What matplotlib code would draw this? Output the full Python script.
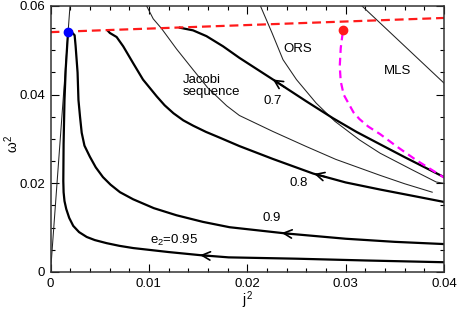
import numpy as np
import matplotlib
matplotlib.use('Agg')
import matplotlib.pyplot as plt
from matplotlib.ticker import MultipleLocator, FuncFormatter

plt.rcParams['font.family'] = ['Liberation Sans', 'DejaVu Sans']
plt.rcParams['mathtext.fontset'] = 'custom'
plt.rcParams['mathtext.rm'] = 'Liberation Sans'
plt.rcParams['mathtext.it'] = 'Liberation Sans'

# e2 = const tracks (thick)
e95_x = [0.00178, 0.00155, 0.00142, 0.00133, 0.00130, 0.00133, 0.00142, 0.00160,
         0.00190, 0.00231, 0.00290, 0.00368, 0.00450, 0.00571, 0.0070, 0.0084,
         0.0100, 0.0120, 0.0152, 0.0181, 0.025, 0.032, 0.040]
e95_y = [0.0541, 0.0460, 0.0388, 0.0290, 0.0205, 0.0180, 0.0160, 0.0142,
         0.0122, 0.0104, 0.0090, 0.0079, 0.0072, 0.0065, 0.0059, 0.0054,
         0.0050, 0.0045, 0.0038, 0.0033, 0.0030, 0.0026, 0.0022]

e90_x = [0.00228, 0.00245, 0.00255, 0.00275, 0.00284, 0.00300, 0.00317, 0.00345,
         0.0040, 0.00460, 0.00533, 0.00610, 0.00706, 0.0084, 0.0105, 0.0128,
         0.0155, 0.0182, 0.0239, 0.0300, 0.0350, 0.0400]
e90_y = [0.0538, 0.0534, 0.0510, 0.0450, 0.0388, 0.0350, 0.0314, 0.0285,
         0.0260, 0.0236, 0.0214, 0.0197, 0.0180, 0.0164, 0.0144, 0.0128,
         0.0113, 0.0101, 0.0087, 0.0075, 0.0068, 0.0063]

e80_x = [0.00587, 0.00604, 0.00672, 0.00739, 0.0084, 0.0094, 0.0108, 0.0116,
         0.0125, 0.0135, 0.0145, 0.0158, 0.0172, 0.0192, 0.0226, 0.0267,
         0.0300, 0.0335, 0.0370, 0.0400]
e80_y = [0.0543, 0.0539, 0.0530, 0.0509, 0.0471, 0.0434, 0.0396, 0.0376,
         0.0358, 0.0342, 0.0330, 0.0316, 0.0303, 0.0284, 0.0255, 0.0222,
         0.0202, 0.0186, 0.0171, 0.0158]

e70_x = [0.01315, 0.01449, 0.01585, 0.01754, 0.0192, 0.02262, 0.0260, 0.0287,
         0.0311, 0.0335, 0.0360, 0.0400]
e70_y = [0.0551, 0.0545, 0.0532, 0.0509, 0.0483, 0.0434, 0.0385, 0.0347,
         0.0316, 0.0288, 0.0259, 0.0214]

# thin reference curves
orig_x = [0.0, 0.00198]
orig_y = [0.0, 0.060]

jac_x = [0.00977, 0.01044, 0.01129, 0.01281, 0.0145, 0.0160, 0.0179, 0.0192,
         0.0226, 0.0260, 0.0290, 0.0335, 0.0360, 0.0388]
jac_y = [0.0600, 0.0571, 0.0549, 0.0503, 0.0456, 0.0415, 0.0375, 0.0353,
         0.0317, 0.0283, 0.0254, 0.0218, 0.0199, 0.0180]

ors_x = [0.02134, 0.02252, 0.02363, 0.0250, 0.0270, 0.0289, 0.0314, 0.0335,
         0.0368, 0.0392, 0.0400]
ors_y = [0.0600, 0.0539, 0.0479, 0.0434, 0.0381, 0.0340, 0.0298, 0.0268,
         0.0230, 0.0203, 0.0200]

mls_x = [0.03166, 0.0400]
mls_y = [0.0600, 0.0426]

# dashed curves
red_x = [0.0, 0.040]
red_y = [0.0541, 0.0573]

mag_x = [0.0297, 0.0295, 0.0294, 0.0295, 0.0298, 0.0303, 0.0308, 0.0314,
         0.0323, 0.0335, 0.0352, 0.0372, 0.0400]
mag_y = [0.0540, 0.0505, 0.0464, 0.0430, 0.0400, 0.0380, 0.0360, 0.0345,
         0.0328, 0.0311, 0.0283, 0.0252, 0.0213]

blue_pt = (0.00178, 0.0541)
red_pt = (0.0297, 0.0545)

# arrow tip positions on each track
arrow_tips = {'0.95': 0.0152, '0.90': 0.0235, '0.80': 0.0268, '0.70': 0.0226}

fig = plt.figure(figsize=(4.58, 3.10), dpi=100)
ax = fig.add_axes([0.1103, 0.1226, 0.8592, 0.8581])

tracks = {'0.95': (e95_x, e95_y), '0.90': (e90_x, e90_y),
          '0.80': (e80_x, e80_y), '0.70': (e70_x, e70_y)}

for x, y in [(orig_x, orig_y), (jac_x, jac_y), (ors_x, ors_y), (mls_x, mls_y)]:
    ax.plot(x, y, color='#222222', lw=0.75)

for k, (x, y) in tracks.items():
    ax.plot(x, y, color='black', lw=1.6, solid_joinstyle='round')
    xt = arrow_tips[k]
    xs = xt + 0.0012
    xa = np.array(x)
    ya = np.array(y)
    # only the monotonic tail part for looking up the arrow position
    m = xa > 0.008
    yt = np.interp(xt, xa[m], ya[m])
    ys = np.interp(xs, xa[m], ya[m])
    ax.annotate('', xy=(xt, yt), xytext=(xs, ys),
                arrowprops=dict(arrowstyle='->,head_length=0.6,head_width=0.3',
                                color='black', lw=1.2, shrinkA=0, shrinkB=0))

ax.plot(red_x, red_y, color='#ff1a1a', lw=1.6, dashes=(4, 2.2))
ax.plot(mag_x, mag_y, color='#ff00ff', lw=1.6, dashes=(3.5, 2.2))

ax.plot(*blue_pt, 'o', color='#0000ff', ms=6, zorder=5)
ax.plot(*red_pt, 'o', color='#ff1a1a', ms=6, zorder=5)

fs = 9.5
ax.text(0.01348, 0.0420, 'Jacobi\nsequence', fontsize=fs, ha='left', va='center',
        linespacing=1.0)
ax.text(0.0251, 0.0504, 'ORS', fontsize=fs, ha='center', va='center')
ax.text(0.0353, 0.0454, 'MLS', fontsize=fs, ha='center', va='center')
ax.text(0.0226, 0.0386, '0.7', fontsize=fs, ha='center', va='center')
ax.text(0.0252, 0.0200, '0.8', fontsize=fs, ha='center', va='center')
ax.text(0.0225, 0.0121, '0.9', fontsize=fs, ha='center', va='center')
ax.text(0.01254, 0.0072, 'e$_2$=0.95', fontsize=fs, ha='center', va='center')

ax.set_xlim(0, 0.04)
ax.set_ylim(0, 0.06)
ax.xaxis.set_major_locator(MultipleLocator(0.01))
ax.xaxis.set_minor_locator(MultipleLocator(0.002))
ax.yaxis.set_major_locator(MultipleLocator(0.02))
ax.yaxis.set_minor_locator(MultipleLocator(0.005))
fmt = FuncFormatter(lambda v, p: '0' if abs(v) < 1e-12 else '%g' % v)
ax.xaxis.set_major_formatter(fmt)
ax.yaxis.set_major_formatter(fmt)

ax.tick_params(which='both', direction='in', top=True, right=True,
               labelsize=9.5, pad=4, width=0.8)
ax.tick_params(which='major', length=5.5)
ax.tick_params(which='minor', length=2.8)
for s in ax.spines.values():
    s.set_linewidth(1.1)
    s.set_color('#333333')

ax.text(0.5, -0.105, '$j^2$', transform=ax.transAxes, ha='center', va='center',
        fontsize=10)
ax.text(-0.098, 0.48, r'$\omega^2$', transform=ax.transAxes, rotation=90,
        ha='center', va='center', fontsize=10)

fig.savefig('out.png', dpi=100)
